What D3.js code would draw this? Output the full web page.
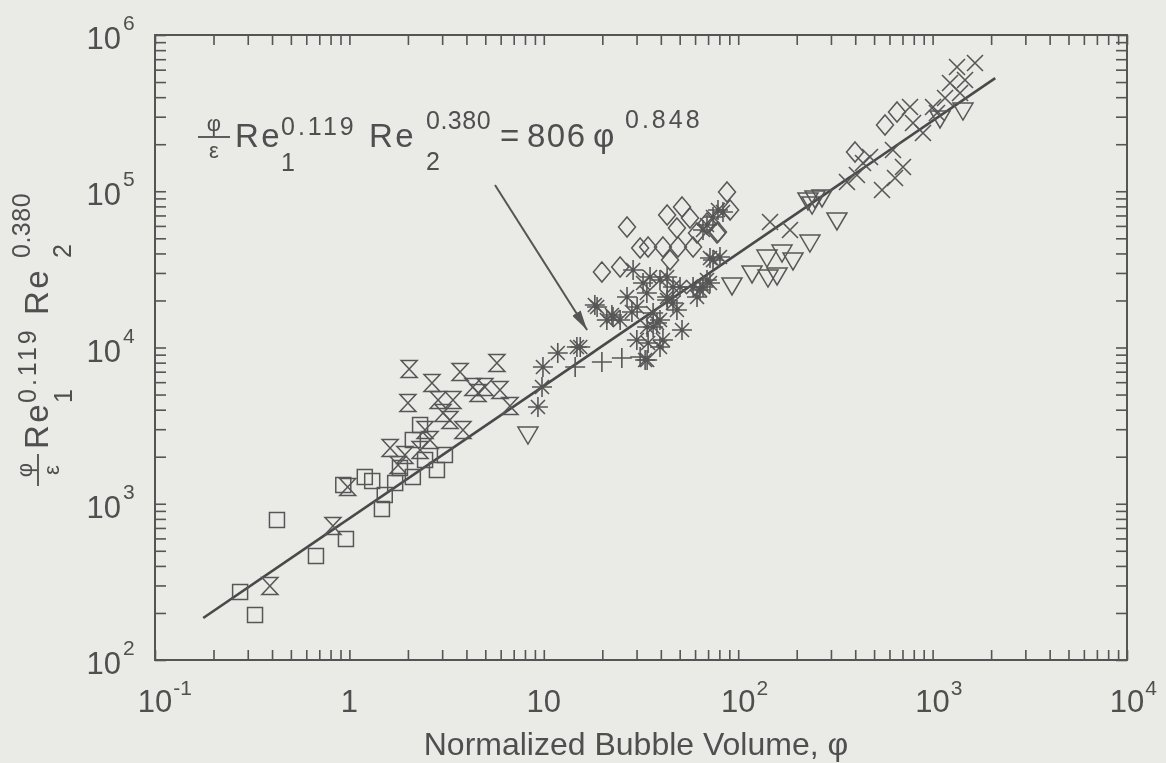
<!DOCTYPE html>
<html>
<head>
<meta charset="utf-8">
<script src="https://cdn.jsdelivr.net/npm/d3@7"></script>
<style>
  html, body { margin: 0; padding: 0; background: #eaeae7; }
  svg { display: block; }
  text { font-family: "Liberation Sans", Arial, Helvetica, sans-serif; fill: #4f4f4f; }
</style>
</head>
<body>
<svg id="chart" width="1166" height="763"></svg>
<script>
// ---- axis ticks (decades) ----
const xDecades = [0.1, 1, 10, 100, 1000, 10000];
const xDecadeLabels = [["10", "-1"], ["1", ""], ["10", ""], ["10", "2"], ["10", "3"], ["10", "4"]];
const yDecades = [1e2, 1e3, 1e4, 1e5, 1e6];
const yDecadeLabels = [["10", "2"], ["10", "3"], ["10", "4"], ["10", "5"], ["10", "6"]];

// ---- correlation: (φ/ε) Re1^0.119 Re2^0.380 = 806 φ^0.848 ----
const fitCoefficient = 806;
const fitExponent = 0.848;
const fitPhiRange = [0.177, 2100];

// ---- measured data, [φ, (φ/ε) Re1^0.119 Re2^0.380] ----
const squares = [
  [0.327, 194], [0.274, 272], [0.424, 787], [0.673, 463], [0.96, 595], [1.47, 925],
  [1.52, 1138], [0.93, 1318], [1.20, 1483], [1.31, 1399], [1.72, 1358], [2.12, 1483],
  [2.12, 2559], [1.82, 1694], [2.45, 1905], [2.82, 1644], [3.10, 2051], [2.31, 3192]
];
const hourglasses = [
  [0.39, 298], [0.823, 721], [0.98, 1280], [1.62, 2275], [2.00, 4416], [2.03, 7286],
  [2.66, 5929], [3.71, 6970], [5.74, 7960], [6.70, 4222], [5.95, 5346], [4.98, 5585],
  [4.32, 5585], [3.84, 2965], [3.41, 4613], [3.03, 3810], [2.86, 4613], [2.31, 2208],
  [1.93, 2051], [2.60, 2559], [1.78, 1770], [2.45, 2965], [3.29, 3436], [4.59, 5117]
];
const asterisks = [
  [9.33, 4160], [9.79, 5585], [9.9, 7500], [11.8, 9223], [14.8, 10070], [18.3, 18700],
  [22.4, 16150], [24.7, 15000], [28.4, 16870], [30.2, 18160], [33.9, 22330], [36.5, 13520],
  [39.6, 15000], [34.4, 10690], [33.2, 8318], [39.6, 10070], [43.1, 21040], [46.2, 19270],
  [50.2, 24380], [43.1, 28250], [58.6, 24380], [63.6, 23330], [71.6, 25860], [74.2, 36310],
  [80.6, 37940], [28.8, 31330], [35.2, 28250], [69.1, 60810], [74.2, 68390], [78.7, 75860],
  [65.9, 56490], [65.9, 24380], [61.4, 21040], [69.1, 27040], [46.2, 24380], [43.1, 20140],
  [48.4, 17380], [39.6, 27040], [36.5, 16630], [34.0, 13520], [30.1, 11170], [38.2, 14350],
  [41.0, 11170], [34.0, 8318], [51.4, 12940], [22.7, 15680], [18.8, 18160], [21.1, 15000],
  [32.4, 25860], [26.8, 21040], [15.4, 10070], [71.6, 37410], [83.5, 73640]
];
const pluses = [[14.5, 7500], [19.9, 8072], [25.2, 8570], [31.3, 8690]];
const diamonds = [
  [19.9, 30410], [24.7, 32740], [26.8, 59020], [31.3, 43350], [34.4, 43990], [41.0, 43990],
  [43.1, 70470], [51.4, 79300], [48.4, 58210], [49.0, 43990], [56.5, 67450], [58.6, 43990],
  [87.6, 98860], [90.8, 75860], [78.7, 54830], [69.1, 62630], [44.6, 36310], [61.4, 54050],
  [77.8, 54050], [399, 178300], [569, 265500], [656, 321400]
];
const downTriangles = [
  [8.29, 2794], [92.9, 25120], [117.8, 29990], [142.3, 28250], [140.6, 37940], [168, 40830],
  [191.4, 36310], [233.9, 47320], [322, 65460], [158.5, 29110], [228.5, 87900], [248.3, 90570],
  [269.8, 91900], [239.9, 82800], [1433, 331100], [1092, 294300]
];
const crosses = [
  [145.8, 63530], [184.7, 56490], [362.7, 114600], [549.2, 101900], [704.2, 142900],
  [625.2, 183700], [476.4, 165600], [438.5, 151700], [892.4, 236000], [792.9, 273500],
  [1053, 316700], [1335, 623700], [1229, 493000], [1384, 425300], [765.2, 346000],
  [1005, 346000], [1159, 395400], [1468, 515200], [408, 127100], [640.7, 121600], [1652, 662000]
];

// annotation arrow, from text toward the curve
const arrowFrom = [5.61, 109600];
const arrowTo = [16.7, 12940];

// ---- layout ----
const plot = { left: 155, right: 1127, top: 35, bottom: 660 };
const ink = "#545454";

const svg = d3.select("#chart");
const defs = svg.append("defs");
defs.append("filter").attr("id", "soft")
  .append("feGaussianBlur").attr("stdDeviation", 0.55);
defs.append("marker").attr("id", "arrowhead")
  .attr("viewBox", "0 0 20 10").attr("refX", 20).attr("refY", 5)
  .attr("markerWidth", 20).attr("markerHeight", 10).attr("markerUnits", "userSpaceOnUse")
  .attr("orient", "auto")
  .append("path").attr("d", "M0,0 L20,5 L0,10 Z").attr("fill", ink);

const root = svg.append("g").attr("filter", "url(#soft)");

const x = d3.scaleLog().domain([0.1, 1e4]).range([plot.left, plot.right]);
const y = d3.scaleLog().domain([1e2, 1e6]).range([plot.bottom, plot.top]);

// ---- tick marks on all four sides, pointing inward ----
function styleAxis(g) {
  g.select(".domain").remove();
  g.selectAll(".tick line").attr("stroke", ink).attr("stroke-width", 1.6);
  g.selectAll(".tick text").remove();
}
root.append("g").attr("transform", `translate(0,${plot.bottom})`)
  .call(d3.axisBottom(x).tickValues(x.ticks()).tickSize(-10).tickFormat("")).call(styleAxis);
root.append("g").attr("transform", `translate(0,${plot.top})`)
  .call(d3.axisTop(x).tickValues(x.ticks()).tickSize(-10).tickFormat("")).call(styleAxis);
root.append("g").attr("transform", `translate(${plot.left},0)`)
  .call(d3.axisLeft(y).tickValues(y.ticks()).tickSize(-11).tickFormat("")).call(styleAxis);
root.append("g").attr("transform", `translate(${plot.right},0)`)
  .call(d3.axisRight(y).tickValues(y.ticks()).tickSize(-11).tickFormat("")).call(styleAxis);

// frame
root.append("rect")
  .attr("x", plot.left).attr("y", plot.top)
  .attr("width", plot.right - plot.left).attr("height", plot.bottom - plot.top)
  .attr("fill", "none").attr("stroke", ink).attr("stroke-width", 2);

// ---- decade labels ----
const labelSize = 31, supSize = 21;
xDecades.forEach((v, i) => {
  const [base, sup] = xDecadeLabels[i];
  const t = root.append("text").attr("x", x(v)).attr("y", 712)
    .attr("text-anchor", "middle").attr("font-size", labelSize).text(base);
  const w = t.node().getComputedTextLength();
  if (sup) {
    root.append("text").attr("x", x(v) + w / 2 + 1).attr("y", 712 - 17)
      .attr("font-size", supSize).text(sup);
  }
});
yDecades.forEach((v, i) => {
  const [base, sup] = yDecadeLabels[i];
  root.append("text").attr("x", 121).attr("y", y(v) + 14)
    .attr("text-anchor", "end").attr("font-size", labelSize).text(base);
  root.append("text").attr("x", 123).attr("y", y(v) + 14 - 19)
    .attr("font-size", supSize).text(sup);
});

// axis title
root.append("text").attr("x", 636).attr("y", 755).attr("text-anchor", "middle")
  .attr("font-size", 32).text("Normalized Bubble Volume, φ");

// ---- the grouped expression (φ/ε) Re1^0.119 Re2^0.380 [= 806 φ^0.848] ----
function drawExpression(g, withRhs) {
  const main = 33, small = 25, frac = 22;
  g.append("text").attr("x", 17).attr("y", -16).attr("text-anchor", "middle")
    .attr("font-size", frac).text("φ");
  g.append("line").attr("x1", 1).attr("x2", 33).attr("y1", -10).attr("y2", -10)
    .attr("stroke", "#4f4f4f").attr("stroke-width", 1.8);
  g.append("text").attr("x", 17).attr("y", 11).attr("text-anchor", "middle")
    .attr("font-size", frac).text("ε");

  g.append("text").attr("x", 38).attr("y", 0).attr("font-size", main)
    .attr("letter-spacing", 2.5).text("Re");
  g.append("text").attr("x", 84).attr("y", -12).attr("font-size", small)
    .attr("letter-spacing", 3).text("0.119");
  g.append("text").attr("x", 84).attr("y", 24).attr("font-size", small).text("1");

  g.append("text").attr("x", 172).attr("y", 0).attr("font-size", main)
    .attr("letter-spacing", 2.5).text("Re");
  g.append("text").attr("x", 229).attr("y", -18).attr("font-size", small)
    .attr("letter-spacing", 0.5).text("0.380");
  g.append("text").attr("x", 229).attr("y", 23).attr("font-size", small).text("2");

  if (withRhs) {
    g.append("text").attr("x", 303).attr("y", 0).attr("font-size", main).text("=");
    g.append("text").attr("x", 330).attr("y", 0).attr("font-size", main)
      .attr("letter-spacing", 1.5).text(String(fitCoefficient));
    g.append("text").attr("x", 396).attr("y", 0).attr("font-size", main).text("φ");
    g.append("text").attr("x", 428).attr("y", -19).attr("font-size", small)
      .attr("letter-spacing", 3).text(fitExponent.toFixed(3));
  }
}

// annotation inside the plot
drawExpression(root.append("g").attr("transform", "translate(197,147)"), true);
// rotated y-axis title
drawExpression(root.append("g").attr("transform", "translate(48,487) rotate(-90)"), false);

// arrow pointing to the correlation line
root.append("line")
  .attr("x1", x(arrowFrom[0])).attr("y1", y(arrowFrom[1]))
  .attr("x2", x(arrowTo[0])).attr("y2", y(arrowTo[1]))
  .attr("stroke", ink).attr("stroke-width", 2).attr("marker-end", "url(#arrowhead)");

// ---- correlation line ----
const fitLine = d3.line().x(d => x(d)).y(d => y(fitCoefficient * Math.pow(d, fitExponent)));
root.append("path").datum(fitPhiRange).attr("d", fitLine)
  .attr("fill", "none").attr("stroke", "#4a4a4a").attr("stroke-width", 2.6);

// ---- markers ----
const shapes = {
  square: "M-7.5,-7.5H7.5V7.5H-7.5Z",
  hourglass: "M-8,-8.5H8L-8,8.5H8Z",
  diamond: "M0,-10L8.5,0L0,10L-8.5,0Z",
  down: "M-10,-7H10L0,10Z",
  asterisk: "M-10,0H10M0,-10V10M-7,-7L7,7M-7,7L7,-7",
  plus: "M-10,0H10M0,-10V10",
  cross: "M-8,-8L8,8M-8,8L8,-8"
};
function drawSeries(data, shape, width) {
  root.append("g").selectAll("path").data(data).join("path")
    .attr("transform", d => `translate(${x(d[0])},${y(d[1])})`)
    .attr("d", shapes[shape])
    .attr("fill", "none").attr("stroke", "#575757").attr("stroke-width", width);
}
drawSeries(squares, "square", 1.5);
drawSeries(hourglasses, "hourglass", 1.5);
drawSeries(diamonds, "diamond", 1.5);
drawSeries(downTriangles, "down", 1.5);
drawSeries(pluses, "plus", 1.6);
drawSeries(crosses, "cross", 1.6);
drawSeries(asterisks, "asterisk", 1.6);
</script>
</body>
</html>
